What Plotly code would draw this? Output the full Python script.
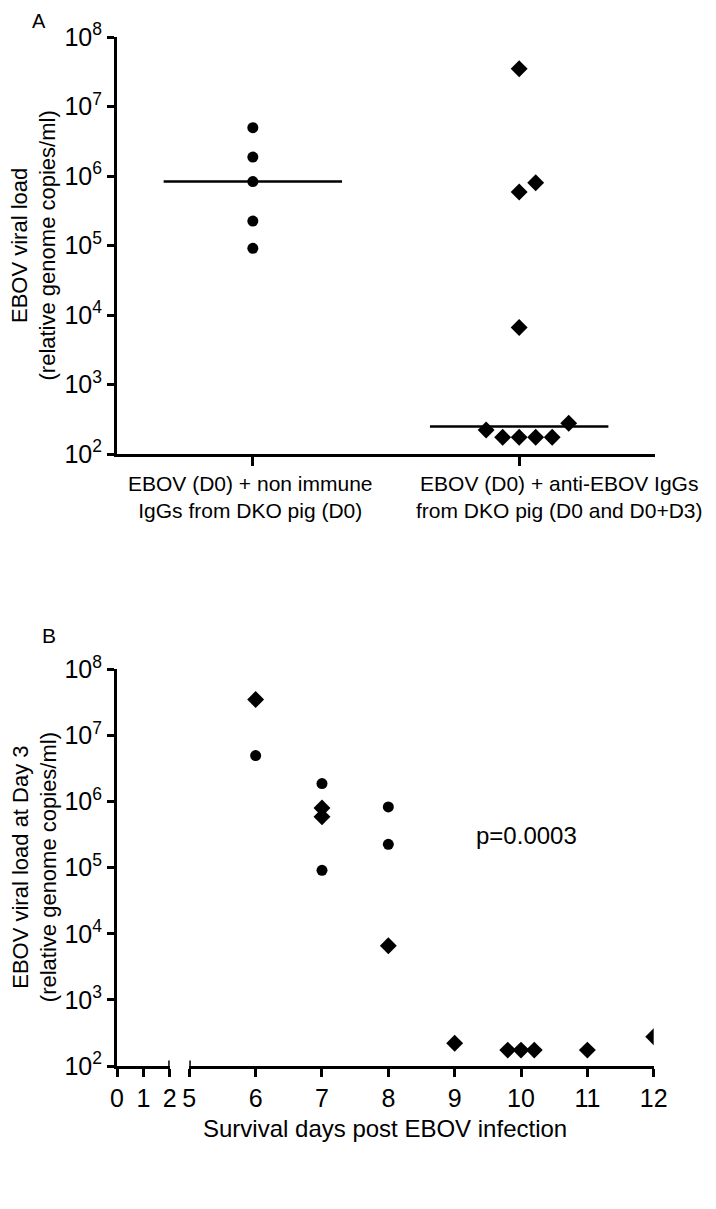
import plotly.graph_objects as go
import numpy as np

# ---------------- data ----------------
group_labels = ["EBOV (D0) + non immune<br>IgGs from DKO pig (D0)",
                "EBOV (D0) + anti-EBOV IgGs<br>from DKO pig (D0 and D0+D3)"]
group_pos = [0, 1]

# viral load at day 3 (relative genome copies/ml)
nonimmune_load = [4.95e6, 1.87e6, 8.3e5, 2.25e5, 9.1e4]
nonimmune_days = [6, 7, 8, 8, 7]

anti_load = [3.5e7, 8.0e5, 5.9e5, 6.6e3, 221, 174, 174, 174, 174, 277]
anti_days = [6, 7, 7, 8, 9, 10, 10, 10, 11, 12]
# column-scatter slot of each diamond in panel A (as drawn)
anti_slots = [0, 1, 0, 0, -2, -1, 0, 1, 2, 3]

ytick_vals = [1e2, 1e3, 1e4, 1e5, 1e6, 1e7, 1e8]
ytick_text = ["10<sup>%d</sup>" % int(np.log10(v)) for v in ytick_vals]
days_left = [0, 1, 2]
days_right = [5, 6, 7, 8, 9, 10, 11, 12]
p_text = "p=0.0003"

# ---------------- layout helpers ----------------
# page has an 8px body margin: figure is drawn at (8, 8) in a 716x1209 window
OFF = 8
W, H = 716 - OFF, 1209 - OFF
FONT = "Liberation Sans, Arial, sans-serif"
def fx(p):
    return (p - OFF) / W
def fy(p):
    return 1 - (p - OFF) / H

fig = go.Figure()

CIRC = dict(symbol="circle", size=11, color="black")
DIAM = dict(symbol="diamond", size=13, color="black")
SLOT = 0.062

# Panel A
fig.add_trace(go.Scatter(x=[group_pos[0]] * len(nonimmune_load), y=nonimmune_load, mode="markers",
                         marker=CIRC, xaxis="x", yaxis="y", showlegend=False))
fig.add_trace(go.Scatter(x=[group_pos[1] + s * SLOT for s in anti_slots], y=anti_load, mode="markers",
                         marker=DIAM, xaxis="x", yaxis="y", showlegend=False))
for i, vals in zip(group_pos, [nonimmune_load, anti_load]):
    med = float(np.median(vals))
    fig.add_trace(go.Scatter(x=[i - 0.335, i + 0.335], y=[med, med], mode="lines",
                             line=dict(color="black", width=2.5), xaxis="x", yaxis="y",
                             showlegend=False, hoverinfo="skip"))

# Panel B (jitter duplicates of identical day/value)
def spread(days, vals, step=0.2):
    out = []
    keys = list(zip(days, vals))
    for i, k in enumerate(keys):
        same = [j for j, kk in enumerate(keys) if kk == k]
        n = len(same)
        idx = same.index(i)
        out.append(k[0] + (idx - (n - 1) / 2) * step if n > 1 else k[0])
    return out

fig.add_trace(go.Scatter(x=spread(nonimmune_days, nonimmune_load), y=nonimmune_load,
                         mode="markers", marker=CIRC, xaxis="x3", yaxis="y2", showlegend=False))
fig.add_trace(go.Scatter(x=spread(anti_days, anti_load), y=anti_load,
                         mode="markers", marker=DIAM, xaxis="x3", yaxis="y2", showlegend=False))
# invisible trace to keep the left (0-2) segment alive
fig.add_trace(go.Scatter(x=[days_left[0]], y=[ytick_vals[0]], mode="markers",
                         marker=dict(opacity=0), xaxis="x2", yaxis="y2",
                         showlegend=False, hoverinfo="skip"))

axis_common = dict(showline=True, linewidth=3, linecolor="black", ticks="outside",
                   tickwidth=3, tickcolor="black", showgrid=False, zeroline=False,
                   automargin=False, fixedrange=True)
ytick_font = dict(family=FONT, size=25, color="black")
xtick_font = dict(family=FONT, size=25, color="black")

fig.update_layout(
    width=W, height=H, template="none",
    paper_bgcolor="white", plot_bgcolor="white",
    margin=dict(l=0, r=0, t=0, b=0),
    font=dict(family=FONT, color="black"),
    xaxis=dict(domain=[fx(117), fx(655)], range=[-0.51, 1.51], anchor="y",
               tickvals=group_pos, showticklabels=False, ticklen=9, **axis_common),
    yaxis=dict(domain=[fy(454), fy(37)], type="log", range=[2, 8], anchor="x",
               tickvals=ytick_vals, ticktext=ytick_text, ticklen=7,
               tickfont=ytick_font, **axis_common),
    xaxis2=dict(domain=[fx(117), fx(169.7)], range=[0, 2], anchor="y2",
                tickvals=days_left, ticktext=[str(d) for d in days_left], ticklen=8,
                tickangle=0, tickfont=xtick_font, **axis_common),
    xaxis3=dict(domain=[fx(189.3), fx(653.7)], range=[5, 12], anchor="y2",
                tickvals=days_right, ticktext=[str(d) for d in days_right], ticklen=8,
                tickangle=0, tickfont=xtick_font, **axis_common),
    yaxis2=dict(domain=[fy(1066), fy(669.3)], type="log", range=[2, 8], anchor="x2",
                tickvals=ytick_vals, ticktext=ytick_text, ticklen=7,
                tickfont=ytick_font, **axis_common),
)

# axis-break end marks
for xr, xv in [("x2", days_left[-1]), ("x3", days_right[0])]:
    fig.add_shape(type="line", xref=xr, yref="y2 domain", x0=xv, x1=xv, y0=-0.02, y1=0.014,
                  line=dict(color="black", width=3))

# category labels (the second one sits shifted right in the original figure)
cat_font = dict(family=FONT, size=21, color="black")
for pos, lab, shift in zip(group_pos, group_labels, [-2, 40]):
    fig.add_annotation(text=lab, xref="x", yref="paper", x=pos, y=fy(497), xshift=shift,
                       showarrow=False, xanchor="center", yanchor="middle", font=cat_font)

ann_font = dict(family=FONT, size=24, color="black")
C = dict(showarrow=False, xanchor="center", yanchor="middle")
fig.add_annotation(text="A", xref="paper", yref="paper", x=fx(39), y=fy(8.5),
                   font=dict(family=FONT, size=20, color="black"), borderpad=0,
                   showarrow=False, xanchor="center", yanchor="top")
fig.add_annotation(text="B", xref="paper", yref="paper", x=fx(49), y=fy(635),
                   font=dict(family=FONT, size=21, color="black"), **C)
ytitle_font = dict(family=FONT, size=22, color="black")
fig.add_annotation(text="EBOV viral load<br>(relative genome copies/ml)", textangle=-90,
                   xref="paper", yref="paper", x=fx(34), y=fy(245.5), font=ytitle_font,
                   borderpad=0, **C)
fig.add_annotation(text="EBOV viral load at Day 3<br>(relative genome copies/ml)", textangle=-90,
                   xref="paper", yref="paper", x=fx(34.5), y=fy(867.7), font=ytitle_font,
                   borderpad=0, **C)
fig.add_annotation(text="Survival days post EBOV infection", xref="paper", yref="paper",
                   x=fx(385), y=fy(1128), font=ann_font, **C)
fig.add_annotation(text=p_text, xref="x3", yref="y2", x=10.09, y=5.49, font=ann_font, **C)

fig.write_html("out.html")
